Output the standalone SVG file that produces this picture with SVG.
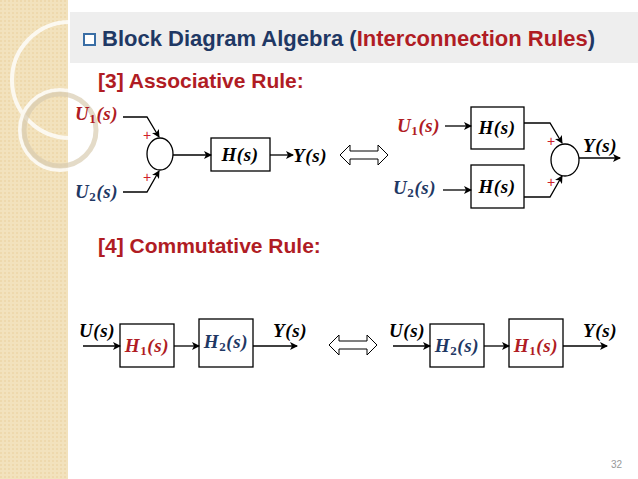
<svg xmlns="http://www.w3.org/2000/svg" width="638" height="479" viewBox="0 0 638 479">
<defs>
<marker id="ah" markerWidth="8" markerHeight="8" refX="7" refY="4" orient="auto" markerUnits="userSpaceOnUse"><path d="M0,0 L8,4 L0,8 L2,4 Z" fill="#000"/></marker>
<pattern id="bg" width="4" height="4" patternUnits="userSpaceOnUse"><rect width="4" height="4" fill="#f2e2bd"/><rect width="2" height="2" fill="#eed9ad"/></pattern>
</defs>
<style>
.m{font-family:"Liberation Serif",serif;font-weight:bold;font-style:italic;font-size:19px;letter-spacing:0.6px}
.sub{font-style:normal;font-size:13px}
.r{fill:#b01c24}.b{fill:#1f3864}.k{fill:#000}
.box{fill:#fff;stroke:#000;stroke-width:1.3}
.ln{fill:none;stroke:#000;stroke-width:1.3}
.h{font-family:"Liberation Sans",Arial,sans-serif;font-weight:bold}
.plus{font-family:"Liberation Sans",sans-serif;fill:#d0202a;font-size:14px}
</style>
<rect width="638" height="479" fill="#fff"/>
<rect x="0" y="0" width="68" height="479" fill="url(#bg)"/>
<g fill="none" stroke="#fff" stroke-width="4" opacity="0.8">
<circle cx="70" cy="80" r="58"/><circle cx="60" cy="130" r="40"/>
</g>
<g fill="none" stroke="#d9ccb0" stroke-width="5" opacity="0.7"><circle cx="60" cy="130" r="36"/></g>
<rect x="70" y="12" width="568" height="51" fill="#eeeeee"/>
<rect x="84" y="34" width="11" height="11" fill="#fff" stroke="#3a6ea5" stroke-width="2"/>
<text x="102" y="46" class="h" font-size="22"><tspan fill="#1f3864">Block Diagram Algebra (</tspan><tspan fill="#b01c24">Interconnection Rules</tspan><tspan fill="#1f3864">)</tspan></text>
<text x="98" y="88" class="h r" font-size="21">[3] Associative Rule:</text>
<text x="98" y="253" class="h r" font-size="21">[4] Commutative Rule:</text>

<g id="assoc-left">
<text x="75" y="120" class="m r">U<tspan class="sub" dy="3">1</tspan><tspan dy="-3">(s)</tspan></text>
<text x="75" y="198" class="m b">U<tspan class="sub" dy="3">2</tspan><tspan dy="-3">(s)</tspan></text>
<ellipse id="sum1" cx="160" cy="154" rx="13" ry="16" class="box"/>
<text x="147" y="140" class="plus" text-anchor="middle">+</text>
<text x="147" y="182" class="plus" text-anchor="middle">+</text>
<g id="h1"><rect x="211" y="138" width="59" height="33" class="box"/><text x="240" y="161" class="m k" text-anchor="middle">H(s)</text></g>
<text x="293" y="162" class="m k">Y(s)</text>
</g>

<g id="assoc-right">
<text x="397" y="132" class="m r">U<tspan class="sub" dy="3">1</tspan><tspan dy="-3">(s)</tspan></text>
<text x="393" y="194" class="m b">U<tspan class="sub" dy="3">2</tspan><tspan dy="-3">(s)</tspan></text>
<g id="h2"><rect x="471" y="107" width="53" height="42" class="box"/><text x="497" y="134" class="m k" text-anchor="middle">H(s)</text></g>
<g id="h3"><rect x="471" y="165" width="53" height="43" class="box"/><text x="497" y="193" class="m k" text-anchor="middle">H(s)</text></g>
<ellipse id="sum2" cx="565" cy="160" rx="14" ry="16" class="box"/>
<text x="551" y="146" class="plus" text-anchor="middle">+</text>
<text x="551" y="187" class="plus" text-anchor="middle">+</text>
<text x="583" y="152" class="m k">Y(s)</text>
</g>

<g id="comm-left">
<text x="79" y="337" class="m k">U(s)</text>
<g id="b1"><rect x="120" y="324" width="54" height="43" class="box"/><text x="147" y="352" class="m r" text-anchor="middle">H<tspan class="sub" dy="3">1</tspan><tspan dy="-3">(s)</tspan></text></g>
<g id="b2"><rect x="199" y="319" width="54" height="48" class="box"/><text x="226" y="348" class="m b" text-anchor="middle">H<tspan class="sub" dy="3">2</tspan><tspan dy="-3">(s)</tspan></text></g>
<text x="273" y="337" class="m k">Y(s)</text>
</g>
<g id="comm-right">
<text x="389" y="337" class="m k">U(s)</text>
<g id="b3"><rect x="430" y="324" width="54" height="43" class="box"/><text x="457" y="352" class="m b" text-anchor="middle">H<tspan class="sub" dy="3">2</tspan><tspan dy="-3">(s)</tspan></text></g>
<g id="b4"><rect x="509" y="319" width="54" height="48" class="box"/><text x="536" y="352" class="m r" text-anchor="middle">H<tspan class="sub" dy="3">1</tspan><tspan dy="-3">(s)</tspan></text></g>
<text x="583" y="337" class="m k">Y(s)</text>
</g>

<g id="connectors">
<polyline points="123,117 147,117 159,137" class="ln" marker-end="url(#ah)"/>
<polyline points="123,192 147,192 159,171" class="ln" marker-end="url(#ah)"/>
<line x1="173" y1="155" x2="211" y2="155" class="ln" marker-end="url(#ah)"/>
<line x1="270" y1="155" x2="293" y2="155" class="ln" marker-end="url(#ah)"/>
<line x1="445" y1="126" x2="471" y2="126" class="ln" marker-end="url(#ah)"/>
<line x1="443" y1="190" x2="471" y2="190" class="ln" marker-end="url(#ah)"/>
<polyline points="524,123 550,123 562,143" class="ln" marker-end="url(#ah)"/>
<polyline points="524,197 550,197 562,176" class="ln" marker-end="url(#ah)"/>
<line x1="579" y1="158" x2="620" y2="158" class="ln" marker-end="url(#ah)"/>
<line x1="83" y1="346" x2="120" y2="346" class="ln" marker-end="url(#ah)"/>
<line x1="174" y1="346" x2="199" y2="346" class="ln" marker-end="url(#ah)"/>
<line x1="253" y1="346" x2="297" y2="346" class="ln" marker-end="url(#ah)"/>
<line x1="393" y1="346" x2="430" y2="346" class="ln" marker-end="url(#ah)"/>
<line x1="484" y1="346" x2="509" y2="346" class="ln" marker-end="url(#ah)"/>
<line x1="563" y1="346" x2="607" y2="346" class="ln" marker-end="url(#ah)"/>
<path d="M340,155 L350,145 L350,151 L378,151 L378,145 L388,155 L378,165 L378,159 L350,159 L350,165 Z" fill="#fff" stroke="#000" stroke-width="1"/>
<path d="M329,345 L339,335 L339,341 L367,341 L367,335 L377,345 L367,355 L367,349 L339,349 L339,355 Z" fill="#fff" stroke="#000" stroke-width="1"/>
</g>
<text x="622" y="468" font-family="Liberation Sans,sans-serif" font-size="10" fill="#999" text-anchor="end">32</text>
</svg>
